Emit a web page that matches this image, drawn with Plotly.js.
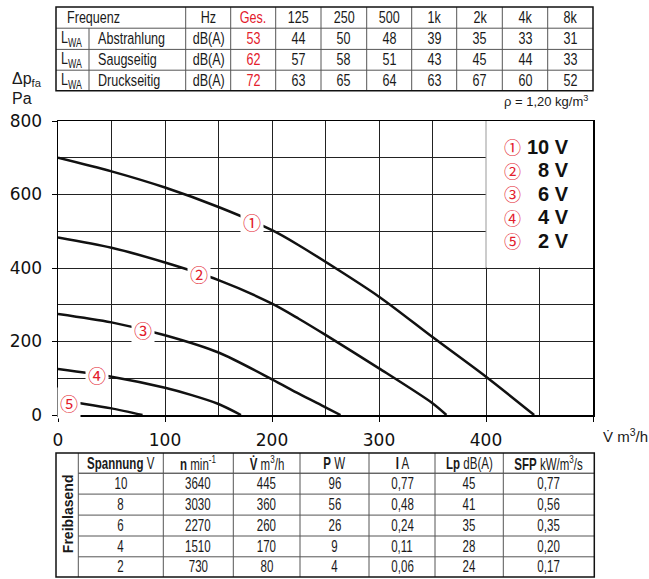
<!DOCTYPE html>
<html>
<head>
<meta charset="utf-8">
<script src="https://cdn.plot.ly/plotly-3.0.1.min.js"></script>
<style>html,body{margin:0;padding:0;background:#fff;}#chart{width:649px;height:579px;}</style>
</head>
<body>
<div id="chart"></div>
<script>
// ---------- data ----------
var curveLabels = ['\u2460','\u2461','\u2462','\u2463','\u2464'];
var voltLabels = ['10 V','8 V','6 V','4 V','2 V'];
var x10 = [0, 50, 100, 150, 200, 225, 300, 350, 400, 445];
var y10 = [700, 663, 619, 566, 503, 462, 322, 212, 104, 0];
var x8 = [0, 50, 100, 150, 200, 225, 250, 300, 350, 363];
var y8 = [483, 455, 415, 367, 303, 262, 218, 127, 32, 0];
var x6 = [0, 50, 100, 150, 200, 225, 250, 264];
var y6 = [275, 252, 217, 170, 97, 58, 21, 0];
var x4 = [0, 50, 100, 125, 150, 171];
var y4 = [125, 104, 74, 54, 30, 0];
var x2 = [0, 25, 50, 79];
var y2 = [40, 30, 18, 0];
var labelX = [181, 132, 79, 36, 10];
var labelY = [525, 385, 231, 109, 34];

var freqLabels = ['125', '250', '500', '1k', '2k', '4k', '8k'];
var rowNames = ['Abstrahlung', 'Saugseitig', 'Druckseitig'];
var gesamt = [53, 62, 72];
var abstrahlung = [44, 50, 48, 39, 35, 33, 31];
var saugseitig = [57, 58, 51, 43, 45, 44, 33];
var druckseitig = [63, 65, 64, 63, 67, 60, 52];

var tableHeaders = ['<b>Spannung</b> V', '<b>n</b> min<sup>-1</sup>', '<b>V\u0307</b> m<sup>3</sup>/h', '<b>P</b> W', '<b>I</b> A', '<b>Lp</b> dB(A)', '<b>SFP</b> kW/m<sup>3</sup>/s'];
var spannung = [10, 8, 6, 4, 2];
var drehzahl = [3640, 3030, 2270, 1510, 730];
var volumen = [445, 360, 260, 170, 80];
var leistung = [96, 56, 26, 9, 4];
var strom = ['0,77', '0,48', '0,24', '0,11', '0,06'];
var schall = [45, 41, 35, 28, 24];
var sfp = ['0,77', '0,56', '0,35', '0,20', '0,17'];

// ---------- layout helpers ----------
var L = 58, R = 593, T = 121, B = 415;
function px(x) { return (x - L) / (R - L); }
function py(y) { return (B - y) / (B - T); }
var RED = '#e3202c', INK = '#1a1a1a';
var NARROW = '"Liberation Sans Narrow", "Arial Narrow", "Liberation Sans", Arial, sans-serif';
var SANS = '"DejaVu Sans", Verdana, sans-serif';
var ARIAL = '"Liberation Sans", Arial, sans-serif';
var CIRC = '"Noto Sans CJK JP", "DejaVu Sans", sans-serif';

var shapes = [];
var ann = [];
var squeeze = [];
function hline(x0, x1, y, c, w) { shapes.push({type: 'line', xref: 'paper', yref: 'paper', x0: px(x0), x1: px(x1), y0: py(y), y1: py(y), line: {color: c, width: w}}); }
function vline(x, y0, y1, c, w) { shapes.push({type: 'line', xref: 'paper', yref: 'paper', x0: px(x), x1: px(x), y0: py(y0), y1: py(y1), line: {color: c, width: w}}); }
function txt(x, y, t, o) {
  o = o || {};
  ann.push({xref: 'paper', yref: 'paper', x: px(x), y: py(y), text: t, showarrow: false,
    xanchor: o.xa || 'center', yanchor: 'middle', textangle: o.ang || 0,
    font: {family: o.fam || NARROW, size: o.size || 16, color: o.color || INK}});
  squeeze.push(o.sq ? {mode: o.xa || 'center', f: o.sq} : null);
}

// ---------- top table ----------
var tc = [56, 89, 185.7, 230.7, 275.7, 321, 366.7, 411.7, 456.7, 502.3, 547.7, 593];
var tr = [7, 28.2, 49.4, 70.2, 90.8];
var GRID = '#555';
var TS = 17, TQ = 0.74;
for (var i = 1; i < tr.length - 1; i++) hline(tc[0], tc[tc.length - 1], tr[i], GRID, 1);
vline(tc[1], tr[1], tr[tr.length - 1], GRID, 1);
for (var j = 2; j < tc.length - 1; j++) vline(tc[j], tr[0], tr[tr.length - 1], GRID, 1);
shapes.push({type: 'rect', xref: 'paper', yref: 'paper', x0: px(tc[0]), x1: px(tc[tc.length - 1]), y0: py(tr[0]), y1: py(tr[tr.length - 1]), line: {color: '#111', width: 1.5}});
function mid(a, k) { return (a[k] + a[k + 1]) / 2; }
txt(65, mid(tr, 0), 'Frequenz', {xa: 'left', sq: TQ, size: TS});
txt(mid(tc, 2), mid(tr, 0), 'Hz', {sq: TQ, size: TS});
txt(mid(tc, 3), mid(tr, 0), 'Ges.', {color: RED, sq: TQ, size: TS});
freqLabels.forEach(function (f, k) { txt(mid(tc, 4 + k), mid(tr, 0), f, {sq: TQ, size: TS}); });
var topRows = [abstrahlung, saugseitig, druckseitig];
rowNames.forEach(function (n, r) {
  var yc = mid(tr, r + 1);
  txt(59, yc, 'L<sub>WA</sub>', {xa: 'left', sq: TQ, size: TS});
  txt(96, yc, n, {xa: 'left', sq: TQ, size: TS});
  txt(mid(tc, 2), yc, 'dB(A)', {sq: TQ, size: TS});
  txt(mid(tc, 3), yc, String(gesamt[r]), {color: RED, sq: TQ, size: TS});
  topRows[r].forEach(function (v, k) { txt(mid(tc, 4 + k), yc, String(v), {sq: TQ, size: TS}); });
});
txt(590, 101, '\u03c1 = 1,20 kg/m<sup>3</sup>', {xa: 'right', size: 13, fam: ARIAL});

// ---------- bottom table ----------
var bc = [56, 78.3, 163.3, 233.3, 300, 369, 435, 503.3, 594.3];
var br = [453, 473.2, 494.1, 515.1, 536, 556.8, 577];
var BS = 16, BQ = 0.72;
for (var i2 = 1; i2 < br.length - 1; i2++) hline(bc[1], bc[bc.length - 1], br[i2], i2 === 1 ? '#222' : GRID, 1);
for (var j2 = 1; j2 < bc.length - 1; j2++) vline(bc[j2], br[0], br[br.length - 1], GRID, 1);
shapes.push({type: 'rect', xref: 'paper', yref: 'paper', x0: px(bc[0]), x1: px(bc[bc.length - 1]), y0: py(br[0]), y1: py(br[br.length - 1]), line: {color: '#111', width: 1.5}});
txt(mid(bc, 0) + 1, 514, '<b>Freiblasend</b>', {ang: -90, size: 14});
tableHeaders.forEach(function (h, k) { txt(mid(bc, k + 1), mid(br, 0), h, {size: BS, sq: BQ}); });
var cols = [spannung, drehzahl, volumen, leistung, strom, schall, sfp];
for (var r2 = 0; r2 < spannung.length; r2++) {
  cols.forEach(function (c, k) { txt(mid(bc, k + 1), mid(br, r2 + 1), String(c[r2]), {size: BS, sq: BQ}); });
}

// ---------- axis titles ----------
txt(10, 79, '\u0394p<sub>fa</sub>', {xa: 'left', fam: ARIAL, size: 16});
txt(10, 99, 'Pa', {xa: 'left', fam: ARIAL, size: 16});
txt(601, 435, 'V\u0307 m<sup>3</sup>/h', {xa: 'left', size: 15, fam: ARIAL});

// ---------- legend box ----------
shapes.push({type: 'rect', xref: 'x', yref: 'y', x0: 400, x1: 500, y0: 401.5, y1: 800, fillcolor: '#fff', line: {width: 0}, layer: 'between'});
shapes.push({type: 'line', xref: 'x', yref: 'y', x0: 400, x1: 400, y0: 400, y1: 800, line: {color: '#999', width: 1}, layer: 'between'});
voltLabels.forEach(function (v, k) {
  var yy = 146.5 + k * 23.5;
  txt(512.5, yy, curveLabels[k], {fam: CIRC, size: 17, color: RED});
  txt(571, yy, '<b>' + v + '</b>', {xa: 'right', fam: ARIAL, size: 20, color: '#111'});
});

// ---------- curve labels ----------
curveLabels.forEach(function (c, k) {
  ann.push({xref: 'x', yref: 'y', x: labelX[k], y: labelY[k], text: c, showarrow: false,
    bgcolor: '#fff', borderpad: 2, font: {family: CIRC, size: 18, color: RED}});
  squeeze.push(null);
});

// ---------- traces ----------
var xs = [x10, x8, x6, x4, x2], ys = [y10, y8, y6, y4, y2];
var traces = xs.map(function (x, k) {
  return {x: x, y: ys[k], type: 'scatter', mode: 'lines', name: voltLabels[k],
    line: {color: '#111', width: 2.5, shape: 'spline', smoothing: 0.8}, hoverinfo: 'skip'};
});

var layout = {
  width: 649, height: 579, showlegend: false,
  paper_bgcolor: '#fff', plot_bgcolor: '#fff',
  margin: {l: L, r: 649 - R, t: T, b: 579 - B, autoexpand: false},
  xaxis: {range: [0, 500], tickvals: [0, 100, 200, 300, 400, 500], ticktext: ['0', '100', '200', '300', '400', ''],
    showgrid: true, gridcolor: '#222', gridwidth: 1, zeroline: false,
    minor: {tickvals: [50, 150, 250, 350, 450], showgrid: true, gridcolor: '#222', gridwidth: 1, ticks: ''},
    showline: true, linecolor: '#000', linewidth: 1.5, mirror: true,
    ticks: 'outside', ticklen: 5, tickcolor: '#000', tickwidth: 1,
    ticklabelstandoff: 4,
    tickfont: {family: SANS, size: 17, color: '#111'}},
  yaxis: {range: [0, 800], tickvals: [0, 200, 400, 600, 800],
    showgrid: true, gridcolor: '#222', gridwidth: 1, zeroline: false,
    minor: {tickvals: [100, 300, 500, 700], showgrid: true, gridcolor: '#222', gridwidth: 1, ticks: ''},
    showline: true, linecolor: '#000', linewidth: 1.5, mirror: true,
    ticks: 'outside', ticklen: 5, tickcolor: '#000', tickwidth: 1,
    ticklabelstandoff: 6,
    tickfont: {family: SANS, size: 17, color: '#111'}},
  shapes: shapes,
  annotations: ann
};
Plotly.newPlot('chart', traces, layout, {staticPlot: true, displayModeBar: false}).then(function (gd) {
  // condensed look for the table texts: squeeze glyphs horizontally around their anchor
  var nodes = gd.querySelectorAll('.annotation');
  nodes.forEach(function (n) {
    var idx = +n.getAttribute('data-index');
    var s = squeeze[idx];
    if (!s) return;
    var t = n.querySelector('text.annotation-text');
    if (!t) return;
    var bb = t.getBBox();
    var ax = s.mode === 'left' ? bb.x : (s.mode === 'right' ? bb.x + bb.width : bb.x + bb.width / 2);
    var prev = t.getAttribute('transform') || '';
    t.setAttribute('transform', prev + ' translate(' + ax + ',0) scale(' + s.f + ',1) translate(' + (-ax) + ',0)');
  });
});
</script>
</body>
</html>
